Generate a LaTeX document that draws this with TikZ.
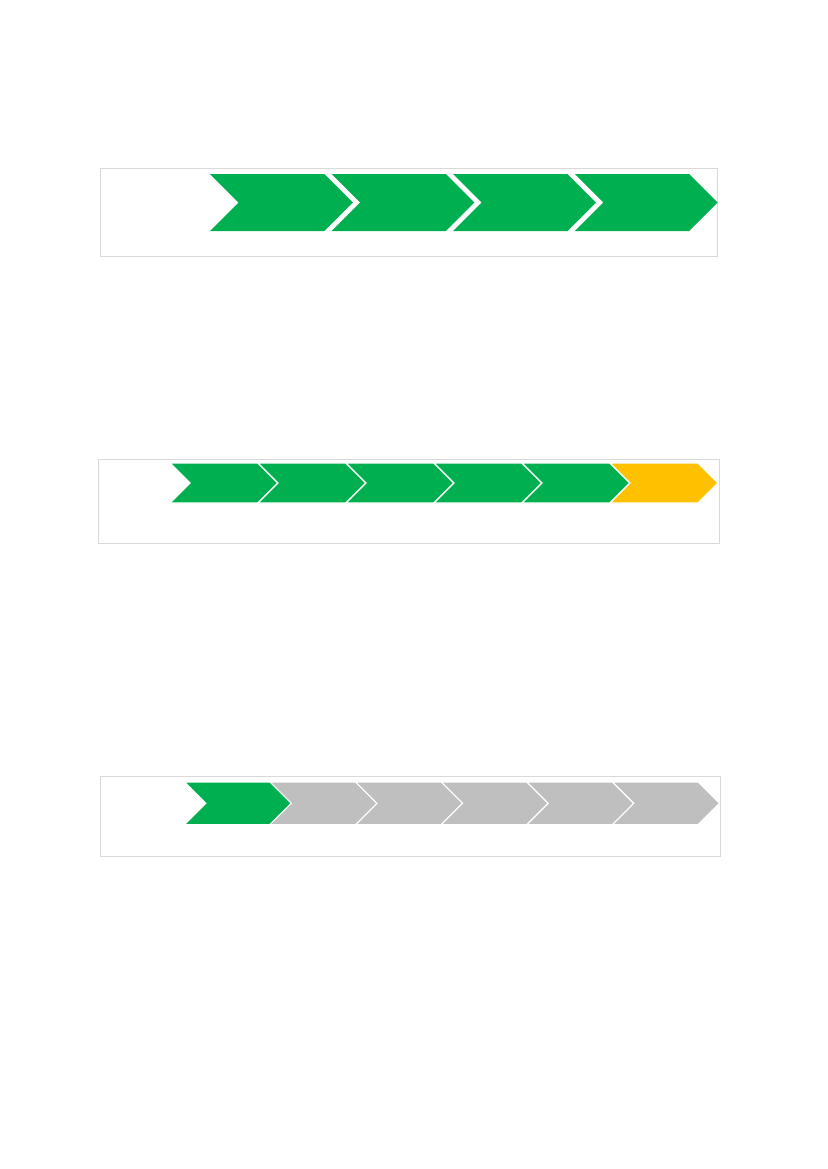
\documentclass[tikz,border=0pt]{standalone}
\usepackage{tikz}
\usepackage{xcolor}

\definecolor{stepgreen}{RGB}{0,176,80}
\definecolor{stepyellow}{RGB}{255,192,0}
\definecolor{stepgrey}{RGB}{191,191,191}
\definecolor{framegrey}{RGB}{217,217,217}

\begin{document}
\begin{tikzpicture}[x=0.72pt,y=0.72pt,yscale=-1,xscale=1,
  frame/.style={draw=framegrey,line width=0.6pt},
  chevgreen/.style={fill=stepgreen},
  chevyellow/.style={fill=stepyellow},
  chevgrey/.style={fill=stepgrey},
  thinedge/.style={draw=white,line width=0.8pt,line join=miter}]
%set diagram size of the page
\useasboundingbox (0,0) rectangle (827,1169);

%Shape: Rectangle [frame 1]
\draw [frame] (100,168.5) rectangle (717.5,256) ;
%Shape: Chevron 1
\fill [chevgreen] (210,174) -- (324.3,174) -- (352.8,202.5) -- (324.3,231) -- (210,231) -- (238.5,202.5) -- cycle ;
%Shape: Chevron 2
\fill [chevgreen] (331.6,174) -- (445.9,174) -- (474.4,202.5) -- (445.9,231) -- (331.6,231) -- (360.1,202.5) -- cycle ;
%Shape: Chevron 3
\fill [chevgreen] (453.2,174) -- (567.5,174) -- (596,202.5) -- (567.5,231) -- (453.2,231) -- (481.7,202.5) -- cycle ;
%Shape: Chevron 4
\fill [chevgreen] (574.8,174) -- (689.1,174) -- (717.6,202.5) -- (689.1,231) -- (574.8,231) -- (603.3,202.5) -- cycle ;

%Shape: Rectangle [frame 2]
\draw [frame] (98.5,459.5) rectangle (719,543) ;
%Shape: Chevron 1
\filldraw [chevgreen,thinedge] (170,463) -- (258,463) -- (278,483) -- (258,503) -- (170,503) -- (190,483) -- cycle ;
%Shape: Chevron 2
\filldraw [chevgreen,thinedge] (258,463) -- (346,463) -- (366,483) -- (346,503) -- (258,503) -- (278,483) -- cycle ;
%Shape: Chevron 3
\filldraw [chevgreen,thinedge] (346,463) -- (434,463) -- (454,483) -- (434,503) -- (346,503) -- (366,483) -- cycle ;
%Shape: Chevron 4
\filldraw [chevgreen,thinedge] (434,463) -- (522,463) -- (542,483) -- (522,503) -- (434,503) -- (454,483) -- cycle ;
%Shape: Chevron 5
\filldraw [chevgreen,thinedge] (522,463) -- (610,463) -- (630,483) -- (610,503) -- (522,503) -- (542,483) -- cycle ;
%Shape: Chevron 6
\filldraw [chevyellow,thinedge] (610,463) -- (698,463) -- (718,483) -- (698,503) -- (610,503) -- (630,483) -- cycle ;

%Shape: Rectangle [frame 3]
\draw [frame] (100,776.5) rectangle (720.5,856) ;
%Shape: Chevron 1
\filldraw [chevgreen,thinedge] (184.5,782) -- (270.1,782) -- (291.4,803.3) -- (270.1,824.6) -- (184.5,824.6) -- (205.8,803.3) -- cycle ;
%Shape: Chevron 2
\filldraw [chevgrey,thinedge] (270.1,782) -- (355.7,782) -- (377,803.3) -- (355.7,824.6) -- (270.1,824.6) -- (291.4,803.3) -- cycle ;
%Shape: Chevron 3
\filldraw [chevgrey,thinedge] (355.7,782) -- (441.3,782) -- (462.6,803.3) -- (441.3,824.6) -- (355.7,824.6) -- (377,803.3) -- cycle ;
%Shape: Chevron 4
\filldraw [chevgrey,thinedge] (441.3,782) -- (526.9,782) -- (548.2,803.3) -- (526.9,824.6) -- (441.3,824.6) -- (462.6,803.3) -- cycle ;
%Shape: Chevron 5
\filldraw [chevgrey,thinedge] (526.9,782) -- (612.5,782) -- (633.8,803.3) -- (612.5,824.6) -- (526.9,824.6) -- (548.2,803.3) -- cycle ;
%Shape: Chevron 6
\filldraw [chevgrey,thinedge] (612.5,782) -- (698.1,782) -- (719.4,803.3) -- (698.1,824.6) -- (612.5,824.6) -- (633.8,803.3) -- cycle ;

\end{tikzpicture}
\end{document}
